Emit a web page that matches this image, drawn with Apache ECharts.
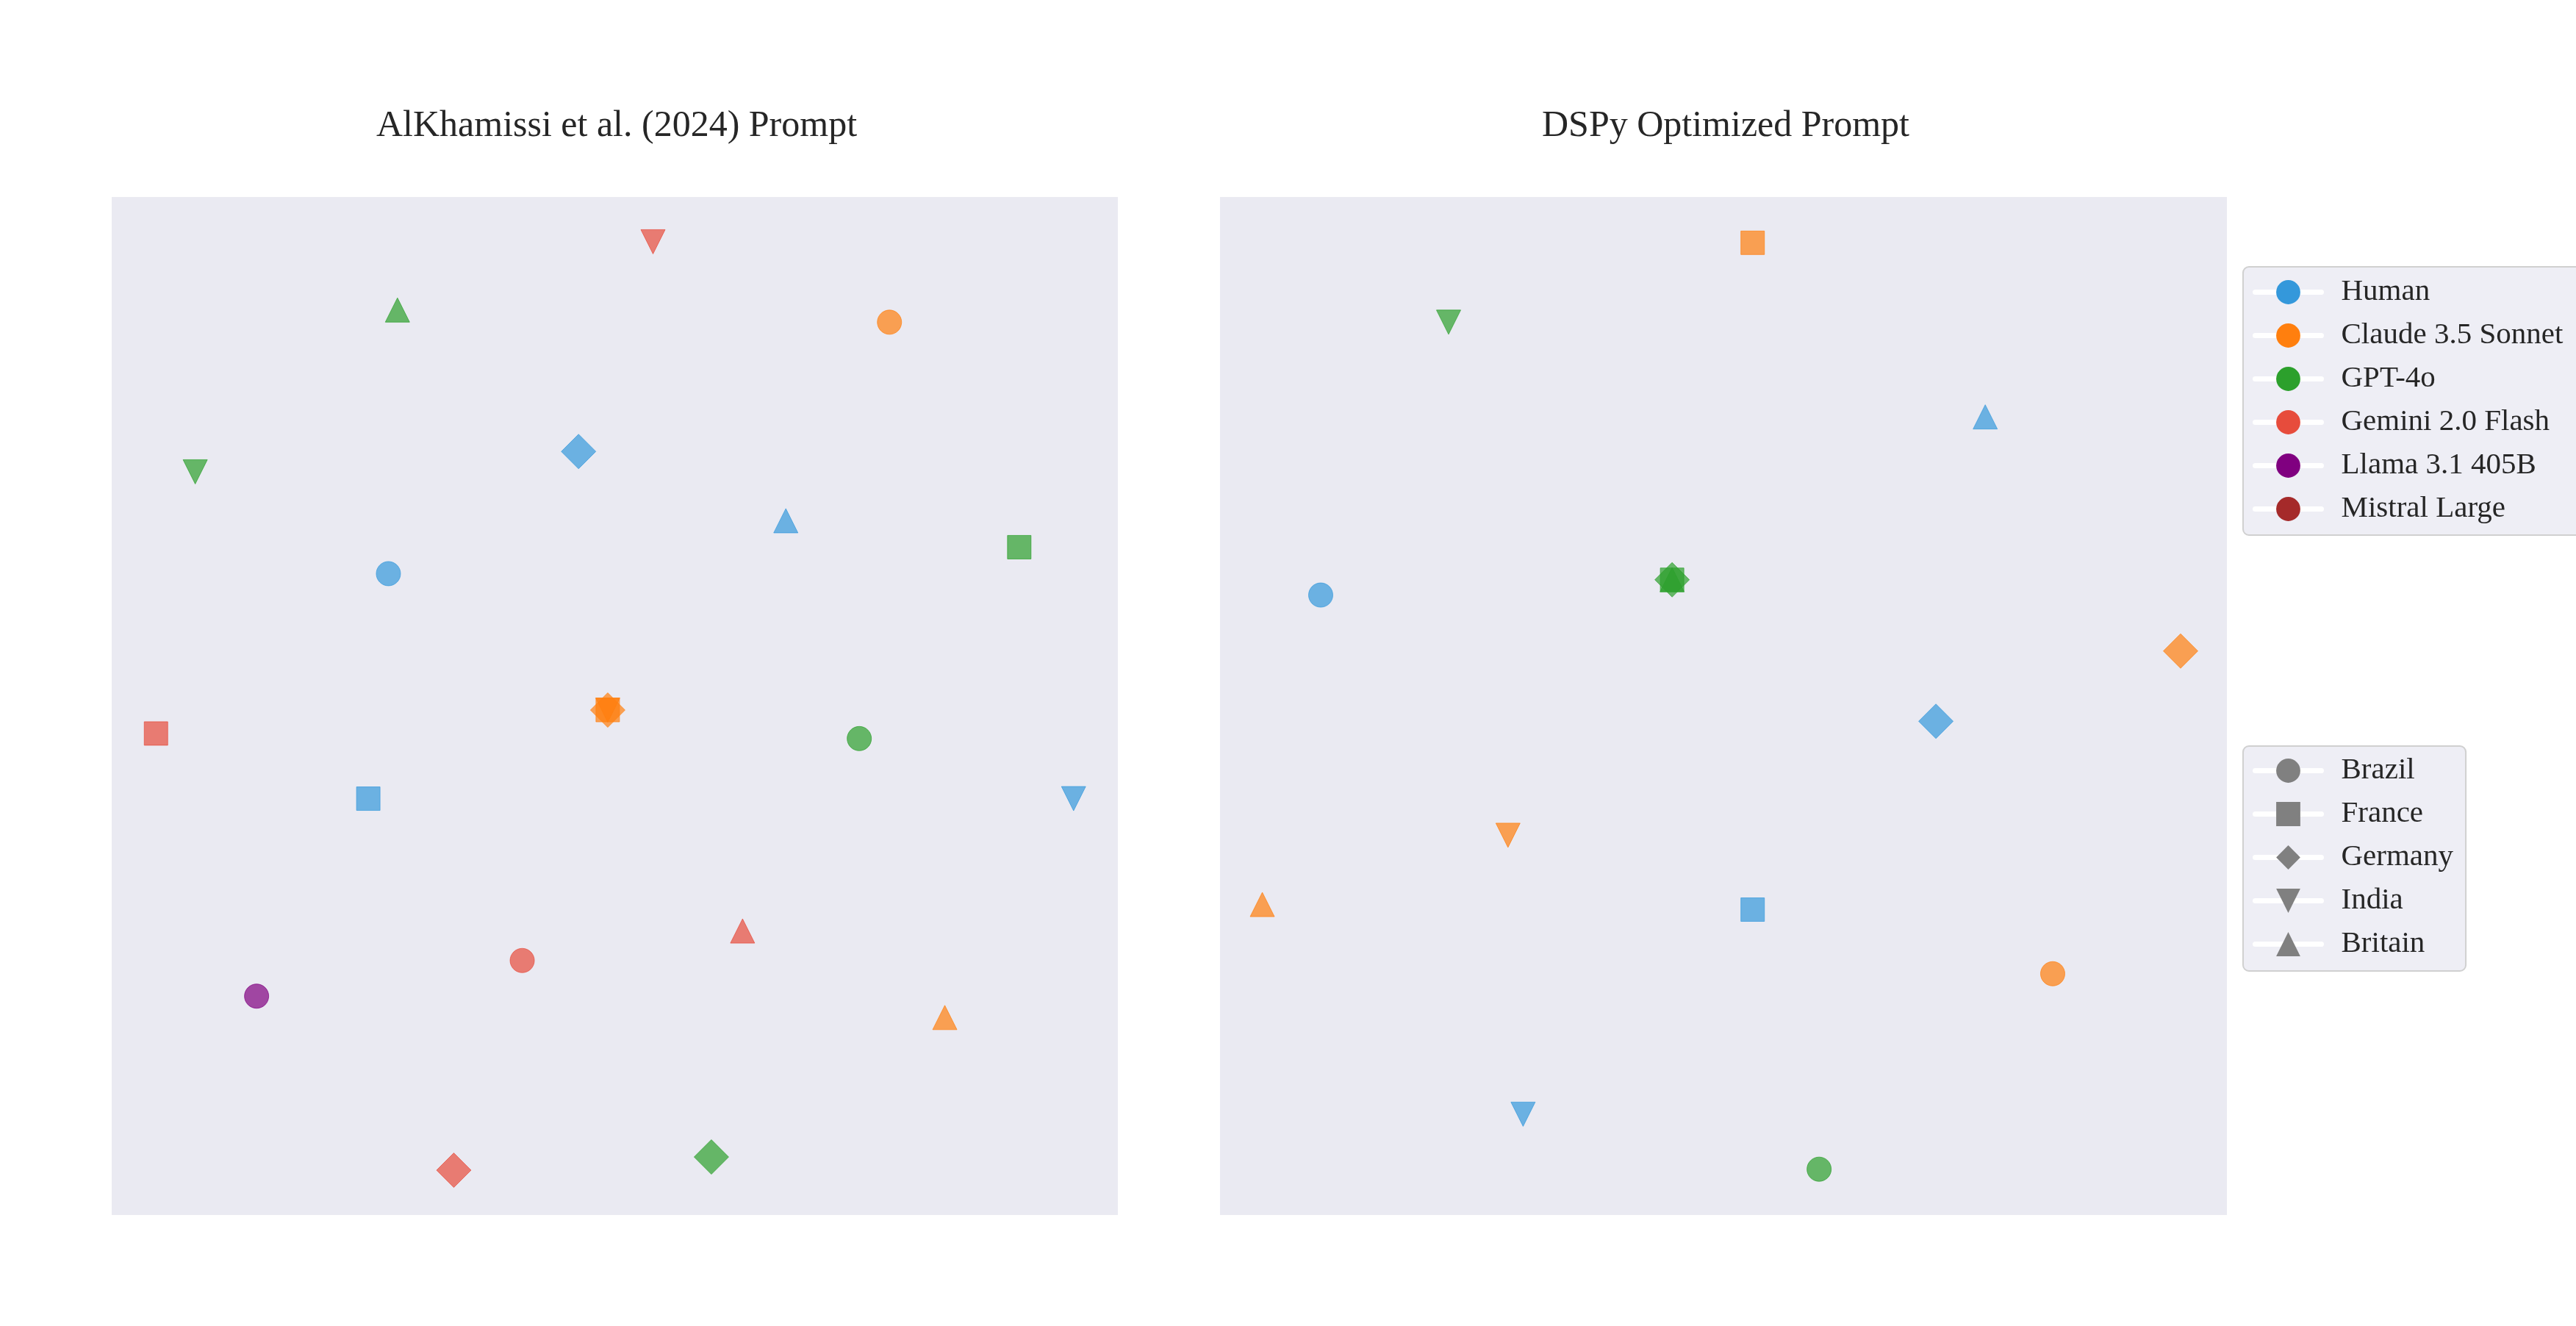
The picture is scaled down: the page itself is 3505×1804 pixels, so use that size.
<!DOCTYPE html>
<html>
<head>
<meta charset="utf-8">
<script src="https://cdn.jsdelivr.net/npm/echarts@6/dist/echarts.min.js"></script>
<style>
html,body{margin:0;padding:0;background:#fff;}
#chart{width:3505px;height:1804px;}
</style>
</head>
<body>
<div id="chart"></div>
<script>
// ---- data ----
const models = ['Human', 'Claude 3.5 Sonnet', 'GPT-4o', 'Gemini 2.0 Flash', 'Llama 3.1 405B', 'Mistral Large'];
const modelColors = ['#3498db', '#ff7f0e', '#2ca02c', '#e74c3c', '#800080', '#a52a2a'];
const countries = ['Brazil', 'France', 'Germany', 'India', 'Britain'];
const panelTitles = ['AlKhamissi et al. (2024) Prompt', 'DSPy Optimized Prompt'];

// left panel: [country, x, y]
const leftHuman   = [['Brazil', 27.5, 63.0], ['France', 25.5, 40.9], ['Germany', 46.4, 75.0], ['India', 95.6, 40.9], ['Britain', 67.0, 68.2]];
const leftClaude  = [['Brazil', 77.3, 87.7], ['France', 49.3, 49.6], ['Germany', 49.3, 49.6], ['India', 49.3, 49.6], ['Britain', 82.8, 19.4]];
const leftGPT     = [['Brazil', 74.3, 46.8], ['France', 90.2, 65.6], ['Germany', 59.6, 5.7], ['India', 8.3, 73.0], ['Britain', 28.4, 88.9]];
const leftGemini  = [['Brazil', 40.8, 25.0], ['France', 4.4, 47.3], ['Germany', 34.0, 4.4], ['India', 53.8, 95.6], ['Britain', 62.7, 27.9]];
const leftLlama   = [['Brazil', 14.4, 21.5]];
const leftMistral = [];

// right panel: [country, x, y]
const rightHuman   = [['Brazil', 10.0, 60.9], ['France', 52.9, 30.0], ['Germany', 71.1, 48.5], ['India', 30.1, 9.9], ['Britain', 76.0, 78.4]];
const rightClaude  = [['Brazil', 82.7, 23.7], ['France', 52.9, 95.5], ['Germany', 95.4, 55.4], ['India', 28.6, 37.3], ['Britain', 4.2, 30.5]];
const rightGPT     = [['Brazil', 59.5, 4.5], ['France', 44.9, 62.4], ['Germany', 44.9, 62.4], ['India', 22.7, 87.7], ['Britain', 44.9, 62.4]];
const rightGemini  = [];
const rightLlama   = [];
const rightMistral = [];

// ---- styles ----
const FONT = '"Liberation Serif", "Times New Roman", serif';
const shapeOf = {
  Brazil:  {symbol: 'circle',   size: 33, rotate: 0},
  France:  {symbol: 'rect',     size: 32, rotate: 0},
  Germany: {symbol: 'diamond',  size: 47, rotate: 0},
  India:   {symbol: 'triangle', size: 33, rotate: 180},
  Britain: {symbol: 'triangle', size: 33, rotate: 0}
};
const panels = [
  [leftHuman, leftClaude, leftGPT, leftGemini, leftLlama, leftMistral],
  [rightHuman, rightClaude, rightGPT, rightGemini, rightLlama, rightMistral]
];

const series = [];
// legend proxy series (empty) so legend icons show a line + marker
models.forEach((m, i) => {
  series.push({type: 'line', name: m, xAxisIndex: 0, yAxisIndex: 0, data: [],
    symbol: 'circle', itemStyle: {color: modelColors[i]}, lineStyle: {color: '#ffffff'}});
});
countries.forEach(c => {
  series.push({type: 'line', name: c, xAxisIndex: 0, yAxisIndex: 0, data: [],
    symbol: shapeOf[c].symbol, symbolRotate: shapeOf[c].rotate,
    itemStyle: {color: '#808080'}, lineStyle: {color: '#ffffff'}});
});
panels.forEach((panel, p) => {
  panel.forEach((pts, i) => {
    series.push({
      type: 'scatter', name: models[i], xAxisIndex: p, yAxisIndex: p,
      data: pts.map(d => ({
        value: [d[1], d[2]], name: d[0],
        symbol: shapeOf[d[0]].symbol,
        symbolSize: shapeOf[d[0]].size,
        symbolRotate: shapeOf[d[0]].rotate
      })),
      itemStyle: {color: modelColors[i], opacity: 0.7, borderColor: modelColors[i], borderWidth: 1},
      emphasis: {disabled: true}
    });
  });
});

const legendCommon = {
  orient: 'vertical', left: 3052, itemWidth: 90, itemHeight: 41, itemGap: 18,
  backgroundColor: 'rgba(234,234,242,0.8)', borderColor: '#d0d0d0', borderWidth: 2, borderRadius: 8,
  lineStyle: {color: '#ffffff', width: 7, cap: 'round'},
  textStyle: {fontFamily: FONT, fontSize: 41, color: '#262626', padding: [0, 0, 0, 22], lineHeight: 41},
  selectedMode: false, inactiveColor: '#808080'
};

const option = {
  backgroundColor: '#ffffff',
  animation: false,
  title: panelTitles.map((t, i) => ({
    text: t, left: i === 0 ? 834 : 2343, top: 142, textAlign: 'center',
    textStyle: {fontFamily: FONT, fontSize: 50, fontWeight: 'normal', color: '#262626'}
  })),
  grid: [
    {left: 152, top: 268, width: 1369, height: 1385, show: true, backgroundColor: '#EAEAF2', borderWidth: 0},
    {left: 1660, top: 268, width: 1370, height: 1385, show: true, backgroundColor: '#EAEAF2', borderWidth: 0}
  ],
  xAxis: [0, 1].map(i => ({type: 'value', gridIndex: i, min: 0, max: 100, show: false})),
  yAxis: [0, 1].map(i => ({type: 'value', gridIndex: i, min: 0, max: 100, show: false})),
  legend: [
    Object.assign({}, legendCommon, {top: 363, data: models, padding: [14, 40, 15, 13]}),
    Object.assign({}, legendCommon, {top: 1015, data: countries, padding: [13, 17, 16, 13]})
  ],
  series: series
};

const chart = echarts.init(document.getElementById('chart'), null, {renderer: 'canvas'});
chart.setOption(option);
</script>
</body>
</html>
